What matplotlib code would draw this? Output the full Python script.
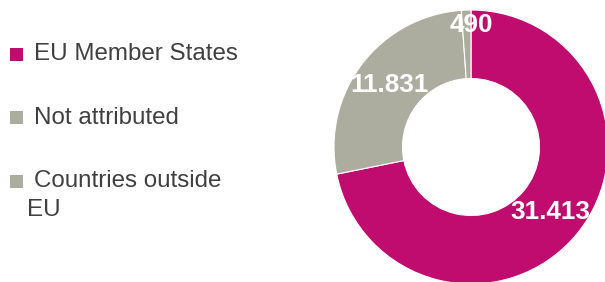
import numpy as np
import matplotlib
matplotlib.use("Agg")
from matplotlib import pyplot as plt
from matplotlib.patches import Rectangle

# data
labels = ["EU Member States", "Not attributed", "Countries outside\nEU"]
values = [31413, 11831, 490]
value_labels = ["31.413", "11.831", "490"]
colors = ["#C00C6F", "#ADAD9F", "#ADAD9F"]

plt.rcParams["font.family"] = ["Liberation Sans", "DejaVu Sans"]

W, H = 605, 282
fig = plt.figure(figsize=(W / 100, H / 100), dpi=100)

# donut, center at (471, 147) px, radius 137 px
cx, cy, r = 471, 147, 137
ax = fig.add_axes([(cx - r) / W, (H - cy - r) / H, 2 * r / W, 2 * r / H])
wedges, _ = ax.pie(values, colors=colors, startangle=90, counterclock=False,
                   radius=1.0, wedgeprops=dict(width=0.5, edgecolor="white", linewidth=0.8))
ax.set_xlim(-1, 1)
ax.set_ylim(-1, 1)
ax.set_aspect("equal")
ax.axis("off")

# value labels inside the ring
label_r = [0.75, 0.75, 0.89]
for w, txt, lr in zip(wedges, value_labels, label_r):
    ang = np.deg2rad((w.theta1 + w.theta2) / 2)
    if txt == "490":
        ang = np.deg2rad(90)
    ax.text(lr * np.cos(ang), lr * np.sin(ang), txt, color="white",
            fontsize=18.8, fontweight="bold", ha="center", va="center")

# legend drawn by hand
rows_y = [54, 118, 181]
for lab, col, y in zip(labels, colors, rows_y):
    fig.patches.append(Rectangle((10 / W, 1 - (y + 6.5) / H), 13 / W, 13 / H,
                                 transform=fig.transFigure, facecolor=col, edgecolor="none"))
    first, *rest = lab.split("\n")
    fig.text(34 / W, 1 - y / H, first, fontsize=17.4, color="#404040", va="center", ha="left")
    for i, line in enumerate(rest):
        fig.text(27 / W, 1 - (y + 29 * (i + 1)) / H, line, fontsize=17.4,
                 color="#404040", va="center", ha="left")

fig.savefig("out.png", dpi=100)
